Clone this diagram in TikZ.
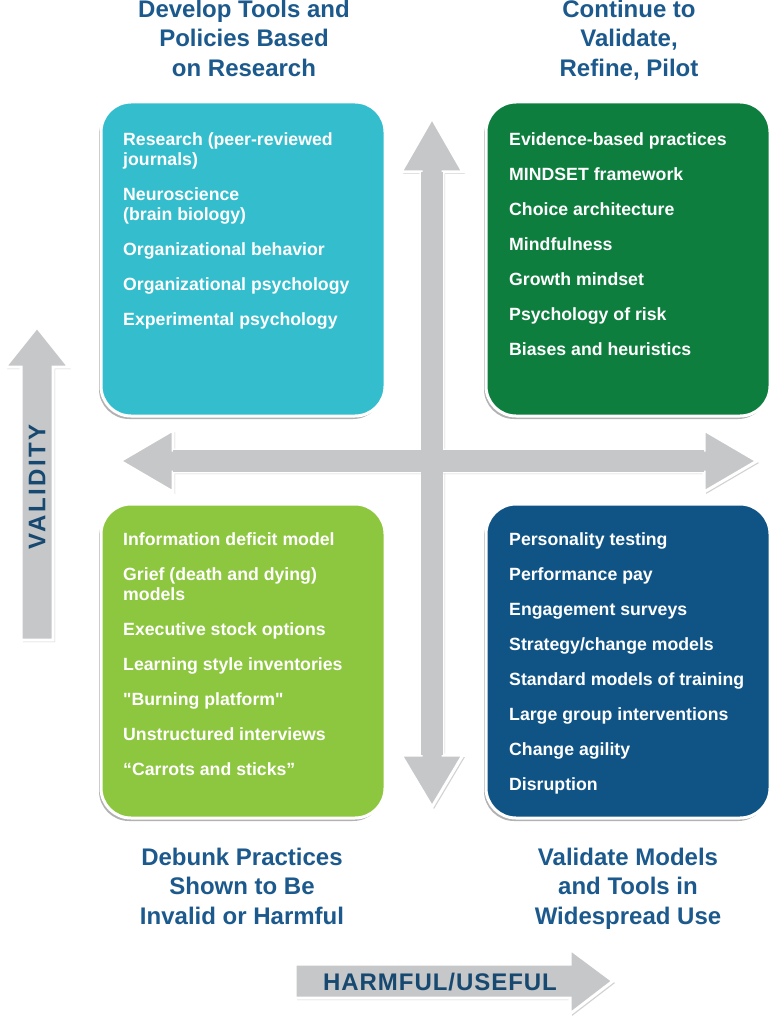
\documentclass[tikz,border=0pt]{standalone}
\usepackage{fontspec}
\setmainfont{Liberation Sans}[Ligatures=TeXOff]
\usetikzlibrary{shadows}
\definecolor{researchcyan}{RGB}{52,189,204}
\definecolor{validgreen}{RGB}{14,126,62}
\definecolor{debunkgreen}{RGB}{141,198,63}
\definecolor{widenavy}{RGB}{16,84,134}
\definecolor{headblue}{RGB}{28,89,140}
\definecolor{axisblue}{RGB}{22,72,112}
\definecolor{arrowgray}{RGB}{198,199,201}
\newcommand{\itemstrut}{\rule{0pt}{14pt}}
\newcommand{\headstrut}{\rule{0pt}{18pt}}
\newcommand{\nextitem}{\\[15pt]}
\tikzset{
  quad/.style={rectangle,rounded corners=30pt,draw=white,line width=3pt,
    minimum width=284pt,minimum height=314pt,
    drop shadow={shadow xshift=-2pt,shadow yshift=-3pt,opacity=.6}},
  items/.style={anchor=north west,inner sep=0pt,align=left,text=white,
    font=\fontsize{17.7}{20}\selectfont\bfseries},
  heading/.style={anchor=north,inner sep=0pt,align=center,text=headblue,
    font=\fontsize{24}{29.5}\selectfont\bfseries},
  bigarrow/.style={fill=arrowgray,draw=white,line width=3pt,line join=miter,
    drop shadow={shadow xshift=2pt,shadow yshift=-2pt,opacity=.35}},
  axislabel/.style={inner sep=0pt,text=axisblue,
    font=\fontsize{24}{24}\selectfont\bfseries\addfontfeature{LetterSpace=#1}}
}
\begin{document}
\begin{tikzpicture}[x=1pt,y=-1pt]
\useasboundingbox (0,0) rectangle (779,1024);
\fill[white] (0,0) rectangle (779,1024);

% crossing arrows
\path[bigarrow] (432,118) -- (463,172) -- (443,172) -- (443,755) -- (463,755) -- (432,807)
  -- (401,755) -- (421,755) -- (421,172) -- (401,172) -- cycle;
\path[bigarrow] (120,461) -- (173,430) -- (173,450) -- (704,450) -- (704,430) -- (757,461)
  -- (704,492) -- (704,472) -- (173,472) -- (173,492) -- cycle;
\fill[arrowgray] (421,172) rectangle (443,755);
\fill[arrowgray] (173,450) rectangle (704,472);

% quadrants
\node[quad,fill=researchcyan] (tl) at (243,259) {};
\node[quad,fill=validgreen] (tr) at (628,259) {};
\node[quad,fill=debunkgreen] (bl) at (243,661) {};
\node[quad,fill=widenavy] (br) at (628,661) {};

\node[items] (tltext) at (123,131) {\itemstrut Research (peer-reviewed\\journals)\nextitem
  Neuroscience\\(brain biology)\nextitem Organizational behavior\nextitem
  Organizational psychology\nextitem Experimental psychology};
\node[items] (trtext) at (509,131) {\itemstrut Evidence-based practices\nextitem
  MINDSET framework\nextitem Choice architecture\nextitem Mindfulness\nextitem
  Growth mindset\nextitem Psychology of risk\nextitem Biases and heuristics};
\node[items] (bltext) at (123,531) {\itemstrut Information deficit model\nextitem
  Grief (death and dying)\\models\nextitem Executive stock options\nextitem
  Learning style inventories\nextitem "Burning platform"\nextitem
  Unstructured interviews\nextitem “Carrots and sticks”};
\node[items] (brtext) at (509,531) {\itemstrut Personality testing\nextitem
  Performance pay\nextitem Engagement surveys\nextitem Strategy/change models\nextitem
  Standard models of training\nextitem Large group interventions\nextitem
  Change agility\nextitem Disruption};

% headings
\node[heading] (tlhead) at (244,-1) {\headstrut Develop Tools and\\Policies Based\\on Research};
\node[heading] (trhead) at (629,-1) {\headstrut Continue to\\Validate,\\Refine, Pilot};
\node[heading] (blhead) at (242,847) {\headstrut Debunk Practices\\Shown to Be\\Invalid or Harmful};
\node[heading] (brhead) at (628,847) {\headstrut Validate Models\\and Tools in\\Widespread Use};

% axes
\path[bigarrow] (37,327) -- (69,367) -- (53,367) -- (53,640) -- (21,640) -- (21,367) -- (5,367) -- cycle;
\node[axislabel=10,rotate=90] (validity) at (37,487) {VALIDITY};
\path[bigarrow] (295,964) -- (570,964) -- (570,949) -- (613,981) -- (570,1014) -- (570,998)
  -- (295,998) -- cycle;
\node[axislabel=4] (usefulness) at (440,982) {HARMFUL/USEFUL};
\end{tikzpicture}
\end{document}
